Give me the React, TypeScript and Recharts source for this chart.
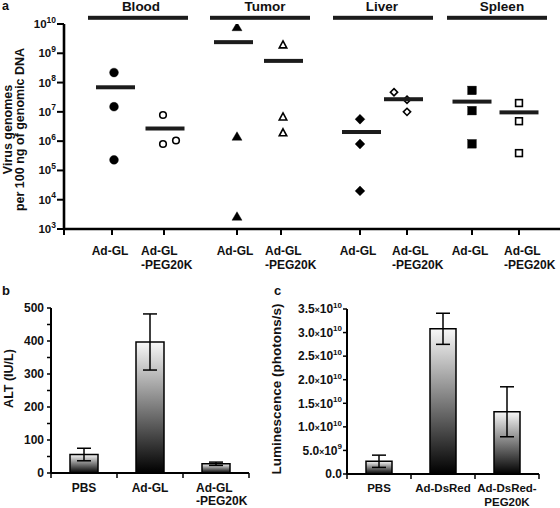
import React from 'react';
import { ScatterChart, Scatter, BarChart, Bar, XAxis, YAxis, ErrorBar, Label } from 'recharts';

const FONT = '"Liberation Sans", Arial, Helvetica, sans-serif';
const INK = '#111';

// ---- panel a: virus genomes per 100 ng genomic DNA ----
const tissues = ['Blood', 'Tumor', 'Liver', 'Spleen'];
const vectorLabels = ['Ad-GL', 'Ad-GL\n-PEG20K'];
const adGlGenomes = [
  [2.2e8, 1.5e7, 2.3e5],
  [7.7e9, 1.4e6, 2.6e3],
  [5.6e6, 8.0e5, 2.0e4],
  [5.4e7, 1.1e7, 8.1e5],
];
const pegGenomes = [
  [7.8e6, 8.0e5, 1.05e6],
  [1.9e9, 6.6e6, 1.9e6],
  [4.7e7, 2.6e7, 1.0e7],
  [2.0e7, 4.8e6, 3.9e5],
];
const adGlMeans = [6.9e7, 2.4e9, 2.05e6, 2.24e7];
const pegMeans = [2.7e6, 5.5e8, 2.7e7, 9.6e6];
const genomeTicks = [1e3, 1e4, 1e5, 1e6, 1e7, 1e8, 1e9, 1e10];

// ---- panel b: serum ALT ----
const altGroups = ['PBS', 'Ad-GL', 'Ad-GL\n-PEG20K'];
const altMean = [56, 397, 28];
const altErr = [19, 85, 5];
const altTicks = [0, 50, 100, 150, 200, 250, 300, 350, 400, 450, 500];

// ---- panel c: luminescence ----
const lumGroups = ['PBS', 'Ad-DsRed', 'Ad-DsRed-\nPEG20K'];
const lumMean = [2.7e9, 3.08e10, 1.32e10];
const lumErr = [1.3e9, 3.3e9, 5.3e9];
const lumTicks = [0, 5e9, 1e10, 1.5e10, 2e10, 2.5e10, 3e10, 3.5e10];

// layout (axis units = px from the y axis in panel a)
const groupX = [48, 100, 173, 217, 296, 343, 408, 455];
const adGlJitter = [[2, 2, 2], [0, 0, 0], [0, 0, 0], [0, 0, 0]];
const pegJitter = [[-1, -1, 12], [2, 2, 2], [-13, 0, 0], [0, 0, 0]];
const adGlMeanShift = [3.5, -3.5, 1.5, 0];
const pegMeanShift = [1, 2.5, -3.5, 0];
const pegLabelDx = [-23, -16, -15, -15];
const markerKinds = ['circle', 'triangle', 'diamond', 'square'];
const headerSpan = [[88, 188, 141], [210, 310, 265], [333, 433, 382], [447, 547, 502]];

const txt = { fontFamily: FONT, fontWeight: 700, fill: INK };

const Marker = ({ cx, cy, kind, open }: any) => {
  if (cx == null || cy == null) return null;
  const fill = open ? '#fff' : '#000';
  const sw = open ? 1.6 : 0.4;
  if (kind === 'circle') {
    return <circle cx={cx} cy={cy} r={open ? 3.3 : 4.4} fill={fill} stroke="#000" strokeWidth={sw} />;
  }
  if (kind === 'triangle') {
    const w = open ? 7.5 : 10;
    const h = open ? 7 : 8.5;
    const pts = `${cx},${cy - h * 0.6} ${cx + w / 2},${cy + h * 0.4} ${cx - w / 2},${cy + h * 0.4}`;
    return <polygon points={pts} fill={fill} stroke="#000" strokeWidth={sw} strokeLinejoin="miter" />;
  }
  if (kind === 'diamond') {
    const r = open ? 3.6 : 4.9;
    const pts = `${cx},${cy - r} ${cx + r},${cy} ${cx},${cy + r} ${cx - r},${cy}`;
    return <polygon points={pts} fill={fill} stroke="#000" strokeWidth={sw} />;
  }
  const s = open ? 6.8 : 8.6;
  return <rect x={cx - s / 2} y={cy - s / 2} width={s} height={s} fill={fill} stroke="#000" strokeWidth={sw} />;
};

const MeanBar = ({ cx, cy }: any) => {
  if (cx == null || cy == null) return null;
  return <rect x={cx - 19.5} y={cy - 2} width={39} height={4} fill="#1c1c1c" />;
};

const PowTick = ({ x, y, payload }: any) => {
  const exp = Math.round(Math.log10(payload.value));
  return (
    <text x={x} y={y + 4} textAnchor="end" fontSize={11.5} {...txt}>
      10<tspan fontSize={8.5} dy={-5.5}>{exp}</tspan>
    </text>
  );
};

const GroupTick = ({ x, y, payload }: any) => {
  const idx = groupX.indexOf(payload.value);
  if (idx < 0) return null;
  const lines = vectorLabels[idx % 2].split('\n');
  if (lines.length === 1) {
    return <text x={x - 2} y={y + 20} textAnchor="middle" fontSize={12} {...txt}>{lines[0]}</text>;
  }
  const left = x + pegLabelDx[Math.floor(idx / 2)];
  return (
    <text textAnchor="start" fontSize={12} {...txt}>
      {lines.map((t, i) => <tspan key={i} x={left} y={y + 20 + i * 14.3}>{t}</tspan>)}
    </text>
  );
};

const AltTick = ({ x, y, payload }: any) => {
  if (payload.value % 100 !== 0) return null;
  return <text x={x} y={y + 4.3} textAnchor="end" fontSize={12} {...txt}>{payload.value}</text>;
};

const LumTick = ({ x, y, payload }: any) => {
  const v = payload.value;
  if (v === 0) return <text x={x} y={y + 4.3} textAnchor="end" fontSize={12} {...txt}>0.0</text>;
  const exp = Math.floor(Math.log10(v) + 1e-9);
  const mant = (v / Math.pow(10, exp)).toFixed(1);
  return (
    <text x={x} y={y + 4.3} textAnchor="end" fontSize={12} {...txt}>
      {mant}<tspan fontSize={8.5}>×</tspan>10<tspan fontSize={8} dy={-5.5}>{exp}</tspan>
    </text>
  );
};

const CatTick = ({ x, y, payload, index, band, multiDx, lineDy, size = 12 }: any) => {
  const lines = String(payload.value).split('\n');
  const useStart = lines.length > 1 && multiDx != null;
  const tx = useStart ? x + multiDx : x;
  return (
    <g>
      <line x1={x + band / 2} x2={x + band / 2} y1={y} y2={y + 5} stroke="#000" strokeWidth={1.5} />
      {index === 0 && <line x1={x - band / 2} x2={x - band / 2} y1={y} y2={y + 5} stroke="#000" strokeWidth={1.5} />}
      <text textAnchor={useStart ? 'start' : 'middle'} fontSize={size} {...txt}>
        {lines.map((t, i) => <tspan key={i} x={tx} y={y + lineDy[i]}>{t}</tspan>)}
      </text>
    </g>
  );
};

const SideTitle = ({ viewBox, lines, xs, shift, size }: any) => {
  const { x, y, height } = viewBox;
  const cy = y + height / 2 + shift;
  return (
    <g>
      {lines.map((t: string, i: number) => (
        <text key={i} x={x + xs[i]} y={cy} transform={`rotate(-90 ${x + xs[i]} ${cy})`}
          textAnchor="middle" dominantBaseline="central" fontSize={size} {...txt}>{t}</text>
      ))}
    </g>
  );
};

export default function App() {
  const altData = altGroups.map((name, i) => ({ name, value: altMean[i], err: altErr[i] }));
  const lumData = lumGroups.map((name, i) => ({ name, value: lumMean[i], err: lumErr[i] }));

  return (
    <div style={{ position: 'absolute', left: 0, top: 0, width: 560, height: 508, background: '#fff', overflow: 'hidden' }}>
      <div style={{ position: 'absolute', left: 0, top: 0 }}>
        <ScatterChart width={560} height={280} margin={{ top: 24, right: 0, bottom: 1, left: 0 }}>
          <XAxis type="number" dataKey="x" domain={[0, 496]} ticks={[0, ...groupX]} interval={0} allowDataOverflow
            height={50} axisLine={{ stroke: '#000', strokeWidth: 2.6 }} tickLine={{ stroke: '#000', strokeWidth: 2 }}
            tickSize={6} tickMargin={0} tick={<GroupTick />} />
          <YAxis type="number" dataKey="y" scale="log" domain={[1e3, 1e10]} ticks={genomeTicks} interval={0}
            allowDataOverflow width={64} axisLine={{ stroke: '#000', strokeWidth: 2.6 }}
            tickLine={{ stroke: '#000', strokeWidth: 2 }} tickSize={7} tickMargin={1} tick={<PowTick />}>
            <Label content={(p: any) => (
              <SideTitle viewBox={p.viewBox} lines={['Virus genomes', 'per 100 ng of genomic DNA']}
                xs={[8, 20]} shift={3} size={12.5} />
            )} />
          </YAxis>
          {tissues.map((t, i) => (
            <Scatter key={`ad-${t}`} data={adGlGenomes[i].map((v, k) => ({ x: groupX[2 * i] + adGlJitter[i][k], y: v }))}
              isAnimationActive={false} shape={(p: any) => <Marker {...p} kind={markerKinds[i]} open={false} />} />
          ))}
          {tissues.map((t, i) => (
            <Scatter key={`peg-${t}`} data={pegGenomes[i].map((v, k) => ({ x: groupX[2 * i + 1] + pegJitter[i][k], y: v }))}
              isAnimationActive={false} shape={(p: any) => <Marker {...p} kind={markerKinds[i]} open />} />
          ))}
          <Scatter data={tissues.map((t, i) => ({ x: groupX[2 * i] + adGlMeanShift[i], y: adGlMeans[i] }))}
            isAnimationActive={false} shape={(p: any) => <MeanBar {...p} />} />
          <Scatter data={tissues.map((t, i) => ({ x: groupX[2 * i + 1] + pegMeanShift[i], y: pegMeans[i] }))}
            isAnimationActive={false} shape={(p: any) => <MeanBar {...p} />} />
        </ScatterChart>
      </div>

      <div style={{ position: 'absolute', left: 0, top: 290 }}>
        <BarChart width={260} height={218} data={altData} margin={{ top: 18, right: 11, bottom: 0, left: 0 }} barSize={28}>
          <XAxis dataKey="name" height={35} axisLine={{ stroke: '#000', strokeWidth: 2 }} tickLine={false}
            tickSize={0} tickMargin={0} interval={0}
            tick={<CatTick band={66} multiDx={-20} lineDy={[18.5, 31.5]} />} />
          <YAxis domain={[0, 500]} ticks={altTicks} interval={0} width={51}
            axisLine={{ stroke: '#000', strokeWidth: 2 }} tickLine={{ stroke: '#000', strokeWidth: 1.5 }}
            tickSize={4} tickMargin={3} tick={<AltTick />}>
            <Label content={(p: any) => (
              <SideTitle viewBox={p.viewBox} lines={['ALT (IU/L)']} xs={[9]} shift={-12} size={12.5} />
            )} />
          </YAxis>
          <Bar dataKey="value" fill="url(#barGrad)" stroke="#000" strokeWidth={1.5} isAnimationActive={false}>
            <ErrorBar dataKey="err" width={7} stroke="#000" strokeWidth={1.5} />
          </Bar>
        </BarChart>
      </div>

      <div style={{ position: 'absolute', left: 270, top: 290 }}>
        <BarChart width={280} height={218} data={lumData} margin={{ top: 19, right: 11, bottom: 0, left: 0 }} barSize={26}>
          <XAxis dataKey="name" height={34} axisLine={{ stroke: '#000', strokeWidth: 2 }} tickLine={false}
            tickSize={0} tickMargin={0} interval={0}
            tick={<CatTick band={64} size={11.5} lineDy={[18.3, 31.6]} />} />
          <YAxis domain={[0, 3.5e10]} ticks={lumTicks} interval={0} width={77}
            axisLine={{ stroke: '#000', strokeWidth: 2 }} tickLine={{ stroke: '#000', strokeWidth: 1.5 }}
            tickSize={4} tickMargin={1} tick={<LumTick />}>
            <Label content={(p: any) => (
              <SideTitle viewBox={p.viewBox} lines={['Luminescence (photons/s)']} xs={[6]} shift={-2.5} size={13.5} />
            )} />
          </YAxis>
          <Bar dataKey="value" fill="url(#barGrad)" stroke="#000" strokeWidth={1.5} isAnimationActive={false}>
            <ErrorBar dataKey="err" width={7} stroke="#000" strokeWidth={1.5} />
          </Bar>
        </BarChart>
      </div>

      <svg width={560} height={508} style={{ position: 'absolute', left: 0, top: 0, pointerEvents: 'none' }}>
        <defs>
          <linearGradient id="barGrad" x1="0" y1="0" x2="0" y2="1">
            <stop offset="0" stopColor="#f8f8f8" />
            <stop offset="1" stopColor="#000" />
          </linearGradient>
        </defs>
        <text x={2} y={10} fontSize={12.5} {...txt}>a</text>
        <text x={2} y={294.5} fontSize={13} {...txt}>b</text>
        <text x={274} y={295} fontSize={13} {...txt}>c</text>
        {tissues.map((t, i) => (
          <g key={t}>
            <text x={headerSpan[i][2]} y={10.5} textAnchor="middle" fontSize={13.5} {...txt}>{t}</text>
            <rect x={headerSpan[i][0]} y={15.8} width={headerSpan[i][1] - headerSpan[i][0]} height={4} fill="#1c1c1c" />
          </g>
        ))}
      </svg>
    </div>
  );
}
